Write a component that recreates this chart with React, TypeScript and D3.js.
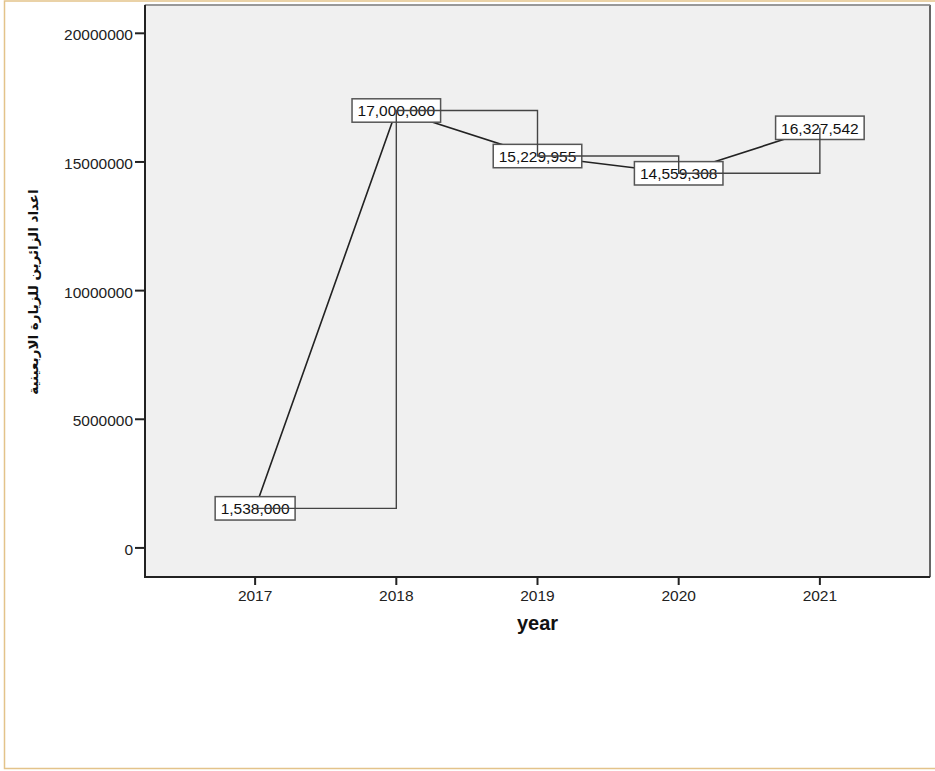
import React from "react";
import * as d3 from "d3";

const years = [2017, 2018, 2019, 2020, 2021];
const visitors = [1538000, 17000000, 15229955, 14559308, 16327542];
const yTicks = [0, 5000000, 10000000, 15000000, 20000000];
const xTicks = [2017, 2018, 2019, 2020, 2021];
const yTitle = "اعداد الزائرين للزيارة الاربعينية";
const xTitle = "year";

const W = 935;
const H = 771;
const left = 145;
const right = 930;
const top = 5;
const bottom = 577;

export default function App() {
  const x = d3.scaleLinear().domain([2016.22, 2021.78]).range([left, right]);
  const y = d3.scaleLinear().domain([-1130000, 21100000]).range([bottom, top]);
  const pts: [number, number][] = years.map((yr, i) => [x(yr), y(visitors[i])]);
  const straight = d3.line().curve(d3.curveLinear)(pts) || "";
  const step = d3.line().curve(d3.curveStepAfter)(pts) || "";
  const fmt = d3.format(",");
  const fs = 15.5;
  const charW = (s: string) =>
    s.split("").reduce((a, c) => a + (c === "," ? 0.278 : 0.556), 0) * fs;
  const font = "'Liberation Sans', Arial, sans-serif";

  return (
    <svg
      width={W}
      height={H}
      style={{ position: "absolute", left: 0, top: 0, background: "#fff" }}
      fontFamily={font}
    >
      <rect x={4.5} y={1} width={W} height={767.5} fill="#fff" stroke="#e3c38a" strokeWidth={1.5} />
      <rect x={left} y={top} width={right - left} height={bottom - top} fill="#f0f0f0" stroke="#9a9a9a" strokeWidth={1} />
      <line x1={right} y1={top} x2={right} y2={bottom} stroke="#666" strokeWidth={2} />
      <line x1={left} y1={top} x2={right} y2={top} stroke="#888" strokeWidth={1.5} />
      {/* y axis */}
      <line x1={left} y1={top} x2={left} y2={bottom + 1} stroke="#222" strokeWidth={2} />
      {yTicks.map((t) => (
        <g key={t}>
          <line x1={left - 10} x2={left} y1={y(t)} y2={y(t)} stroke="#222" strokeWidth={2} />
          <text x={133} y={y(t) + 7} textAnchor="end" fontSize={fs} fill="#222">
            {t}
          </text>
        </g>
      ))}
      {/* x axis */}
      <line x1={left - 1} y1={bottom} x2={right} y2={bottom} stroke="#222" strokeWidth={2} />
      {xTicks.map((t) => (
        <g key={t}>
          <line x1={x(t)} x2={x(t)} y1={bottom} y2={bottom + 8} stroke="#222" strokeWidth={2} />
          <text x={x(t)} y={600.5} textAnchor="middle" fontSize={fs} fill="#222">
            {t}
          </text>
        </g>
      ))}
      <text x={537.5} y={630} textAnchor="middle" fontSize={20} fontWeight="bold" fill="#111">
        {xTitle}
      </text>
      <text
        transform={`translate(33, 292) rotate(-90)`}
        textAnchor="middle"
        dominantBaseline="central"
        fontSize={13.5}
        fontWeight="bold"
        fontFamily="'DejaVu Sans', sans-serif"
        fill="#111"
      >
        {yTitle}
      </text>
      {/* data line */}
      <path d={straight} fill="none" stroke="#222" strokeWidth={1.6} />
      {/* labels */}
      {pts.map(([px, py], i) => {
        const label = fmt(visitors[i]);
        const w = charW(label) + 11;
        return (
          <g key={i}>
            <rect x={px - w / 2} y={py - 11.7} width={w} height={23.4} fill="#fff" stroke="#555" strokeWidth={1.5} />
            <text x={px} y={py + 6} textAnchor="middle" fontSize={fs} fill="#111">
              {label}
            </text>
          </g>
        );
      })}
      <path d={step} fill="none" stroke="#444" strokeWidth={1.4} />
    </svg>
  );
}
